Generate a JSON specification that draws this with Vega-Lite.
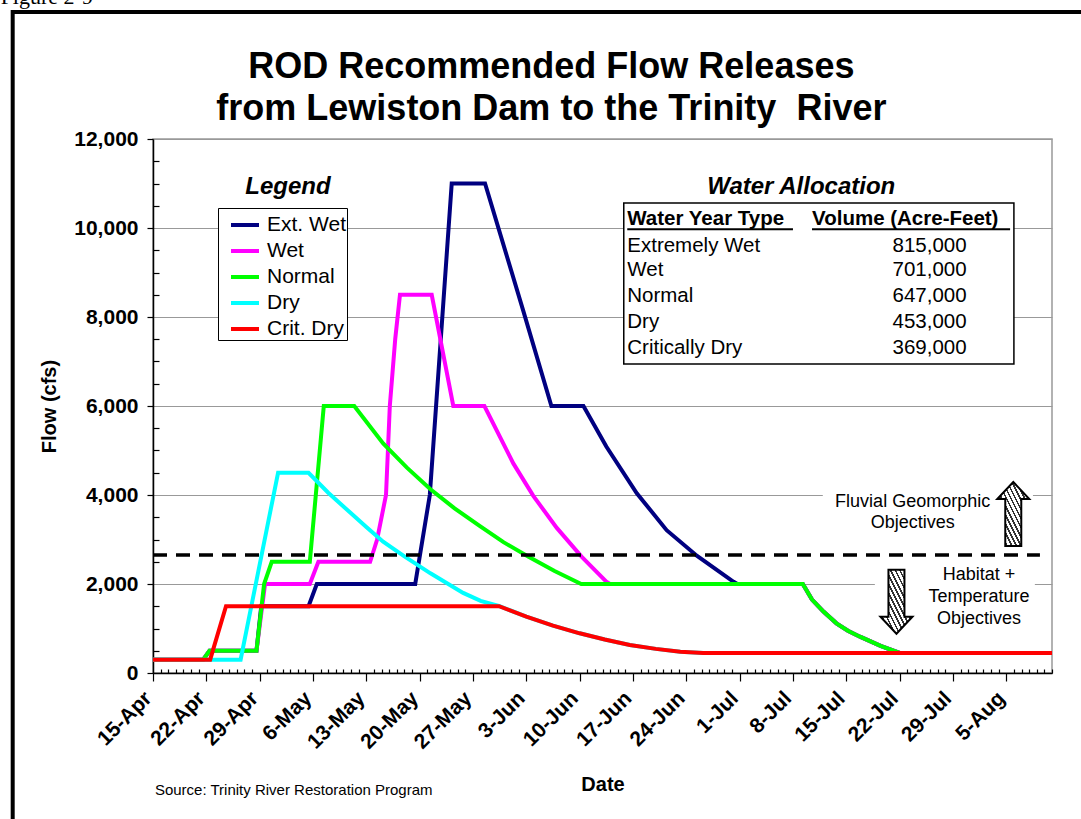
{
  "$schema": "https://vega.github.io/schema/vega-lite/v6.json",
  "width": 899,
  "height": 534,
  "autosize": {"type": "none"},
  "padding": {"left": 153, "top": 139, "right": 29, "bottom": 146},
  "background": "white",
  "config": {
    "font": "Liberation Sans",
    "view": {"stroke": "#999999", "strokeWidth": 1.5}
  },
  "encoding": {
    "x": {
      "field": "date",
      "type": "temporal",
      "scale": {"type": "utc", "nice": false, "domain": [{"year": 2001, "month": 4, "date": 15, "utc": true}, {"year": 2001, "month": 8, "date": 11, "utc": true}]},
      "axis": {
        "tickCount": {"interval": "day", "step": 1},
        "labelExpr": "round((datum.value - utc(2001,3,15))/86400000) % 7 == 0 ? utcFormat(datum.value, '%-d-%b') : ''",
        "labelAngle": -45,
        "labelAlign": "right",
        "labelBaseline": "middle",
        "labelFontSize": 21,
        "labelFontWeight": "bold",
        "labelColor": "black",
        "labelOverlap": false,
        "labelFlush": false,
        "labelBound": false,
        "labelPadding": 14,
        "labelOffset": -5,
        "tickSize": {"condition": {"test": "round((datum.value - utc(2001,3,15))/86400000) % 7 == 0", "value": 8}, "value": -4},
        "tickColor": "black",
        "tickWidth": 1.2,
        "domainColor": "black",
        "domainWidth": 1.5,
        "grid": false,
        "title": "Date",
        "titleFontSize": 20,
        "titleFontWeight": "bold",
        "titleColor": "black",
        "titlePadding": 22
      }
    },
    "y": {
      "field": "flow",
      "type": "quantitative",
      "scale": {"domain": [0, 12000], "nice": false, "zero": false},
      "axis": {
        "values": [0, 500, 1000, 1500, 2000, 2500, 3000, 3500, 4000, 4500, 5000, 5500, 6000, 6500, 7000, 7500, 8000, 8500, 9000, 9500, 10000, 10500, 11000, 11500, 12000],
        "labelExpr": "datum.value % 2000 == 0 ? format(datum.value, ',') : ''",
        "labelFontSize": 21,
        "labelFontWeight": "bold",
        "labelColor": "black",
        "labelOverlap": false,
        "labelPadding": 9,
        "tickSize": {"condition": {"test": "datum.value % 2000 == 0", "value": 6}, "value": -6},
        "tickColor": "black",
        "tickWidth": 1.2,
        "domainColor": "black",
        "domainWidth": 1.5,
        "grid": true,
        "gridColor": "#999999",
        "gridWidth": 1.2,
        "gridOpacity": {"condition": {"test": "datum.value % 2000 != 0", "value": 0}, "value": 1},
        "title": "Flow (cfs)",
        "titleFontSize": 20,
        "titleFontWeight": "bold",
        "titleColor": "black",
        "titlePadding": 14
      }
    }
  },
  "layer": [
    {
      "data": {"values": [
        {"date": "2001-07-11T22:00Z", "date2": "2001-08-08T12:00Z", "flow": 4337, "flow2": 2989},
        {"date": "2001-07-18T18:00Z", "date2": "2001-08-08T18:00Z", "flow": 2494, "flow2": 854}
      ]},
      "mark": {"type": "rect", "fill": "white", "strokeOpacity": 0},
      "encoding": {"x2": {"field": "date2"}, "y2": {"field": "flow2"}}
    },
    {
      "data": {"values": [
        {"date": "2001-06-15T19:00Z", "date2": "2001-08-06T00:00Z", "flow": 10562, "flow2": 6944}
      ]},
      "mark": {"type": "rect", "fill": "white", "stroke": "black", "strokeWidth": 1.5},
      "encoding": {"x2": {"field": "date2"}, "y2": {"field": "flow2"}}
    },
    {
      "data": {"values": [
        {"series": "Ext. Wet", "date": "2001-04-15T00:00Z", "flow": 300},
        {"series": "Ext. Wet", "date": "2001-04-21T14:00Z", "flow": 300},
        {"series": "Ext. Wet", "date": "2001-04-22T10:00Z", "flow": 500},
        {"series": "Ext. Wet", "date": "2001-04-28T14:00Z", "flow": 500},
        {"series": "Ext. Wet", "date": "2001-04-29T05:00Z", "flow": 1500},
        {"series": "Ext. Wet", "date": "2001-05-05T10:00Z", "flow": 1500},
        {"series": "Ext. Wet", "date": "2001-05-06T12:00Z", "flow": 2000},
        {"series": "Ext. Wet", "date": "2001-05-19T10:00Z", "flow": 2000},
        {"series": "Ext. Wet", "date": "2001-05-21T08:00Z", "flow": 4000},
        {"series": "Ext. Wet", "date": "2001-05-24T05:00Z", "flow": 11000},
        {"series": "Ext. Wet", "date": "2001-05-28T14:00Z", "flow": 11000},
        {"series": "Ext. Wet", "date": "2001-06-02T14:00Z", "flow": 8150},
        {"series": "Ext. Wet", "date": "2001-06-06T07:00Z", "flow": 6000},
        {"series": "Ext. Wet", "date": "2001-06-10T12:00Z", "flow": 6000},
        {"series": "Ext. Wet", "date": "2001-06-13T12:00Z", "flow": 5090},
        {"series": "Ext. Wet", "date": "2001-06-17T12:00Z", "flow": 4040},
        {"series": "Ext. Wet", "date": "2001-06-21T10:00Z", "flow": 3210},
        {"series": "Ext. Wet", "date": "2001-06-25T10:00Z", "flow": 2630},
        {"series": "Ext. Wet", "date": "2001-06-30T05:00Z", "flow": 2050},
        {"series": "Ext. Wet", "date": "2001-06-30T17:00Z", "flow": 2000},
        {"series": "Ext. Wet", "date": "2001-07-09T07:00Z", "flow": 2000},
        {"series": "Ext. Wet", "date": "2001-07-10T12:00Z", "flow": 1650},
        {"series": "Ext. Wet", "date": "2001-07-12T00:00Z", "flow": 1380},
        {"series": "Ext. Wet", "date": "2001-07-13T17:00Z", "flow": 1116},
        {"series": "Ext. Wet", "date": "2001-07-15T05:00Z", "flow": 950},
        {"series": "Ext. Wet", "date": "2001-07-16T19:00Z", "flow": 816},
        {"series": "Ext. Wet", "date": "2001-07-19T12:00Z", "flow": 610},
        {"series": "Ext. Wet", "date": "2001-07-22T00:00Z", "flow": 450},
        {"series": "Ext. Wet", "date": "2001-08-11T00:00Z", "flow": 450},

        {"series": "Wet", "date": "2001-04-15T00:00Z", "flow": 300},
        {"series": "Wet", "date": "2001-04-21T14:00Z", "flow": 300},
        {"series": "Wet", "date": "2001-04-22T10:00Z", "flow": 500},
        {"series": "Wet", "date": "2001-04-28T14:00Z", "flow": 500},
        {"series": "Wet", "date": "2001-04-29T17:00Z", "flow": 2000},
        {"series": "Wet", "date": "2001-05-05T14:00Z", "flow": 2000},
        {"series": "Wet", "date": "2001-05-06T17:00Z", "flow": 2500},
        {"series": "Wet", "date": "2001-05-13T12:00Z", "flow": 2500},
        {"series": "Wet", "date": "2001-05-14T10:00Z", "flow": 3000},
        {"series": "Wet", "date": "2001-05-15T14:00Z", "flow": 4000},
        {"series": "Wet", "date": "2001-05-16T02:00Z", "flow": 6000},
        {"series": "Wet", "date": "2001-05-16T19:00Z", "flow": 7500},
        {"series": "Wet", "date": "2001-05-17T10:00Z", "flow": 8500},
        {"series": "Wet", "date": "2001-05-21T14:00Z", "flow": 8500},
        {"series": "Wet", "date": "2001-05-24T10:00Z", "flow": 6000},
        {"series": "Wet", "date": "2001-05-28T12:00Z", "flow": 6000},
        {"series": "Wet", "date": "2001-05-31T10:00Z", "flow": 5010},
        {"series": "Wet", "date": "2001-06-01T07:00Z", "flow": 4710},
        {"series": "Wet", "date": "2001-06-03T22:00Z", "flow": 3980},
        {"series": "Wet", "date": "2001-06-07T00:00Z", "flow": 3260},
        {"series": "Wet", "date": "2001-06-10T06:00Z", "flow": 2614},
        {"series": "Wet", "date": "2001-06-13T12:00Z", "flow": 2050},
        {"series": "Wet", "date": "2001-06-14T00:00Z", "flow": 2000},
        {"series": "Wet", "date": "2001-07-09T07:00Z", "flow": 2000},
        {"series": "Wet", "date": "2001-07-10T12:00Z", "flow": 1650},
        {"series": "Wet", "date": "2001-07-12T00:00Z", "flow": 1380},
        {"series": "Wet", "date": "2001-07-13T17:00Z", "flow": 1116},
        {"series": "Wet", "date": "2001-07-15T05:00Z", "flow": 950},
        {"series": "Wet", "date": "2001-07-16T19:00Z", "flow": 816},
        {"series": "Wet", "date": "2001-07-19T12:00Z", "flow": 610},
        {"series": "Wet", "date": "2001-07-22T00:00Z", "flow": 450},
        {"series": "Wet", "date": "2001-08-11T00:00Z", "flow": 450},

        {"series": "Normal", "date": "2001-04-15T00:00Z", "flow": 300},
        {"series": "Normal", "date": "2001-04-21T14:00Z", "flow": 300},
        {"series": "Normal", "date": "2001-04-22T10:00Z", "flow": 500},
        {"series": "Normal", "date": "2001-04-28T14:00Z", "flow": 500},
        {"series": "Normal", "date": "2001-04-29T14:00Z", "flow": 2000},
        {"series": "Normal", "date": "2001-04-30T14:00Z", "flow": 2500},
        {"series": "Normal", "date": "2001-05-05T14:00Z", "flow": 2500},
        {"series": "Normal", "date": "2001-05-07T10:00Z", "flow": 6000},
        {"series": "Normal", "date": "2001-05-11T10:00Z", "flow": 6000},
        {"series": "Normal", "date": "2001-05-15T05:00Z", "flow": 5160},
        {"series": "Normal", "date": "2001-05-18T07:00Z", "flow": 4620},
        {"series": "Normal", "date": "2001-05-21T10:00Z", "flow": 4130},
        {"series": "Normal", "date": "2001-05-24T14:00Z", "flow": 3700},
        {"series": "Normal", "date": "2001-05-27T22:00Z", "flow": 3300},
        {"series": "Normal", "date": "2001-05-31T00:00Z", "flow": 2940},
        {"series": "Normal", "date": "2001-06-03T07:00Z", "flow": 2614},
        {"series": "Normal", "date": "2001-06-06T17:00Z", "flow": 2290},
        {"series": "Normal", "date": "2001-06-10T05:00Z", "flow": 2000},
        {"series": "Normal", "date": "2001-07-09T07:00Z", "flow": 2000},
        {"series": "Normal", "date": "2001-07-10T12:00Z", "flow": 1650},
        {"series": "Normal", "date": "2001-07-12T00:00Z", "flow": 1380},
        {"series": "Normal", "date": "2001-07-13T17:00Z", "flow": 1116},
        {"series": "Normal", "date": "2001-07-15T05:00Z", "flow": 950},
        {"series": "Normal", "date": "2001-07-16T19:00Z", "flow": 816},
        {"series": "Normal", "date": "2001-07-19T12:00Z", "flow": 610},
        {"series": "Normal", "date": "2001-07-22T00:00Z", "flow": 450},
        {"series": "Normal", "date": "2001-08-11T00:00Z", "flow": 450},

        {"series": "Dry", "date": "2001-04-15T00:00Z", "flow": 300},
        {"series": "Dry", "date": "2001-04-26T12:00Z", "flow": 300},
        {"series": "Dry", "date": "2001-05-01T10:00Z", "flow": 4500},
        {"series": "Dry", "date": "2001-05-05T10:00Z", "flow": 4500},
        {"series": "Dry", "date": "2001-05-08T00:00Z", "flow": 4050},
        {"series": "Dry", "date": "2001-05-10T22:00Z", "flow": 3600},
        {"series": "Dry", "date": "2001-05-13T00:00Z", "flow": 3280},
        {"series": "Dry", "date": "2001-05-15T05:00Z", "flow": 2950},
        {"series": "Dry", "date": "2001-05-18T00:00Z", "flow": 2620},
        {"series": "Dry", "date": "2001-05-21T10:00Z", "flow": 2240},
        {"series": "Dry", "date": "2001-05-25T17:00Z", "flow": 1800},
        {"series": "Dry", "date": "2001-05-28T00:00Z", "flow": 1620},
        {"series": "Dry", "date": "2001-05-30T12:00Z", "flow": 1500},
        {"series": "Dry", "date": "2001-06-03T00:00Z", "flow": 1266},
        {"series": "Dry", "date": "2001-06-06T12:00Z", "flow": 1065},
        {"series": "Dry", "date": "2001-06-10T00:00Z", "flow": 892},
        {"series": "Dry", "date": "2001-06-13T07:00Z", "flow": 752},
        {"series": "Dry", "date": "2001-06-16T14:00Z", "flow": 629},
        {"series": "Dry", "date": "2001-06-20T00:00Z", "flow": 542},
        {"series": "Dry", "date": "2001-06-23T05:00Z", "flow": 479},
        {"series": "Dry", "date": "2001-06-26T05:00Z", "flow": 450},
        {"series": "Dry", "date": "2001-08-11T00:00Z", "flow": 450},

        {"series": "Crit. Dry", "date": "2001-04-15T00:00Z", "flow": 300},
        {"series": "Crit. Dry", "date": "2001-04-22T12:00Z", "flow": 300},
        {"series": "Crit. Dry", "date": "2001-04-24T14:00Z", "flow": 1500},
        {"series": "Crit. Dry", "date": "2001-05-30T10:00Z", "flow": 1500},
        {"series": "Crit. Dry", "date": "2001-06-03T00:00Z", "flow": 1266},
        {"series": "Crit. Dry", "date": "2001-06-06T12:00Z", "flow": 1065},
        {"series": "Crit. Dry", "date": "2001-06-10T00:00Z", "flow": 892},
        {"series": "Crit. Dry", "date": "2001-06-13T07:00Z", "flow": 752},
        {"series": "Crit. Dry", "date": "2001-06-16T14:00Z", "flow": 629},
        {"series": "Crit. Dry", "date": "2001-06-20T00:00Z", "flow": 542},
        {"series": "Crit. Dry", "date": "2001-06-23T05:00Z", "flow": 479},
        {"series": "Crit. Dry", "date": "2001-06-26T05:00Z", "flow": 450},
        {"series": "Crit. Dry", "date": "2001-08-11T00:00Z", "flow": 450}
      ]},
      "mark": {"type": "line", "strokeWidth": 4},
      "encoding": {
        "color": {
          "field": "series",
          "type": "nominal",
          "scale": {"domain": ["Ext. Wet", "Wet", "Normal", "Dry", "Crit. Dry"], "range": ["#000080", "#FF00FF", "#00FF00", "#00FFFF", "#FF0000"]},
          "legend": {
            "orient": "none",
            "legendX": 65,
            "legendY": 69,
            "title": null,
            "strokeColor": "black",
            "fillColor": "white",
            "padding": 1,
            "symbolType": "stroke",
            "symbolSize": 784,
            "symbolStrokeWidth": 4,
            "symbolOffset": 10,
            "labelOffset": 6,
            "labelFontSize": 21,
            "labelColor": "black",
            "rowPadding": -1
          }
        }
      }
    },
    {
      "data": {"values": [
        {"date": "2001-04-15T00:00Z", "date2": "2001-08-09T10:00Z", "flow": 2650}
      ]},
      "mark": {"type": "rule", "color": "black", "strokeWidth": 3.5, "strokeDash": [14, 9]},
      "encoding": {"x2": {"field": "date2"}}
    },
    {
      "data": {"values": [
        {"date": "2001-06-16T06:00Z", "date2": "2001-07-08T00:00Z", "flow": 9971},
        {"date": "2001-07-10T12:00Z", "date2": "2001-08-05T12:00Z", "flow": 9971}
      ]},
      "mark": {"type": "rule", "color": "black", "strokeWidth": 2},
      "encoding": {"x2": {"field": "date2"}}
    },
    {
      "data": {"values": [
        {"date": "2001-06-06T07:00Z", "flow": 13371, "text": "ROD Recommended Flow Releases"},
        {"date": "2001-06-06T07:00Z", "flow": 12427, "text": "from Lewiston Dam to the Trinity \u00a0River"}
      ]},
      "mark": {"type": "text", "fontSize": 36, "fontWeight": "bold", "align": "center", "baseline": "alphabetic", "color": "black"},
      "encoding": {"text": {"field": "text"}}
    },
    {
      "data": {"values": [
        {"date": "2001-05-02T17:00Z", "flow": 10930, "text": "Legend"},
        {"date": "2001-07-09T02:00Z", "flow": 10930, "text": "Water Allocation"}
      ]},
      "mark": {"type": "text", "fontSize": 24, "fontWeight": "bold", "fontStyle": "italic", "align": "center", "baseline": "middle", "color": "black"},
      "encoding": {"text": {"field": "text"}}
    },
    {
      "data": {"values": [
        {"date": "2001-06-16T06:00Z", "flow": 10195, "text": "Water Year Type"},
        {"date": "2001-07-10T12:00Z", "flow": 10195, "text": "Volume (Acre-Feet)"}
      ]},
      "mark": {"type": "text", "fontSize": 20.5, "fontWeight": "bold", "align": "left", "baseline": "middle", "color": "black"},
      "encoding": {"text": {"field": "text"}}
    },
    {
      "data": {"name": "allocation", "values": [
        {"date": "2001-06-16T06:00Z", "date2": "2001-07-30T19:00Z", "flow": 9596, "type": "Extremely Wet", "volume": "815,000"},
        {"date": "2001-06-16T06:00Z", "date2": "2001-07-30T19:00Z", "flow": 9056, "type": "Wet", "volume": "701,000"},
        {"date": "2001-06-16T06:00Z", "date2": "2001-07-30T19:00Z", "flow": 8472, "type": "Normal", "volume": "647,000"},
        {"date": "2001-06-16T06:00Z", "date2": "2001-07-30T19:00Z", "flow": 7894, "type": "Dry", "volume": "453,000"},
        {"date": "2001-06-16T06:00Z", "date2": "2001-07-30T19:00Z", "flow": 7297, "type": "Critically Dry", "volume": "369,000"}
      ]},
      "layer": [
        {
          "mark": {"type": "text", "fontSize": 20.5, "align": "left", "baseline": "middle", "color": "black"},
          "encoding": {"text": {"field": "type"}}
        },
        {
          "mark": {"type": "text", "fontSize": 20.5, "align": "right", "baseline": "middle", "color": "black"},
          "encoding": {"x": {"field": "date2", "type": "temporal"}, "text": {"field": "volume"}}
        }
      ]
    },
    {
      "data": {"values": [
        {"date": "2001-07-23T17:00Z", "flow": 3850, "text": "Fluvial Geomorphic"},
        {"date": "2001-07-23T17:00Z", "flow": 3365, "text": "Objectives"},
        {"date": "2001-08-01T10:00Z", "flow": 2202, "text": "Habitat +"},
        {"date": "2001-08-01T10:00Z", "flow": 1701, "text": "Temperature"},
        {"date": "2001-08-01T10:00Z", "flow": 1207, "text": "Objectives"}
      ]},
      "mark": {"type": "text", "fontSize": 18, "align": "center", "baseline": "middle", "color": "black"},
      "encoding": {"text": {"field": "text"}}
    },
    {
      "data": {"values": [
        {"date": "2001-04-15T06:00Z", "flow": -2629, "text": "Source: Trinity River Restoration Program"}
      ]},
      "mark": {"type": "text", "fontSize": 15, "align": "left", "baseline": "middle", "color": "black"},
      "encoding": {"text": {"field": "text"}}
    },
    {
      "data": {"values": [
        {"date": "2001-03-26T00:00Z", "flow": 15034, "text": "Figure 2-9"}
      ]},
      "mark": {"type": "text", "font": "Liberation Serif", "fontSize": 22, "align": "left", "baseline": "alphabetic", "color": "black"},
      "encoding": {"text": {"field": "text"}}
    },
    {
      "data": {"values": [
        {"date": "2001-08-05T22:00Z", "flow": 3573, "dir": "up"},
        {"date": "2001-07-21T14:00Z", "flow": 1602, "dir": "down"}
      ]},
      "mark": {
        "type": "point",
        "filled": true,
        "opacity": 1,
        "size": 4096,
        "stroke": "black",
        "strokeWidth": 2,
        "strokeOpacity": 1,
        "fillOpacity": 1,
        "fill": {
          "gradient": "linear", "x1": 0, "y1": 1, "x2": 1, "y2": 0,
          "stops": [
            {"offset": 0, "color": "#333333"}, {"offset": 0.029, "color": "#333333"}, {"offset": 0.029, "color": "#ffffff"}, {"offset": 0.071, "color": "#ffffff"},
            {"offset": 0.071, "color": "#333333"}, {"offset": 0.1, "color": "#333333"}, {"offset": 0.1, "color": "#ffffff"}, {"offset": 0.143, "color": "#ffffff"},
            {"offset": 0.143, "color": "#333333"}, {"offset": 0.171, "color": "#333333"}, {"offset": 0.171, "color": "#ffffff"}, {"offset": 0.214, "color": "#ffffff"},
            {"offset": 0.214, "color": "#333333"}, {"offset": 0.243, "color": "#333333"}, {"offset": 0.243, "color": "#ffffff"}, {"offset": 0.286, "color": "#ffffff"},
            {"offset": 0.286, "color": "#333333"}, {"offset": 0.314, "color": "#333333"}, {"offset": 0.314, "color": "#ffffff"}, {"offset": 0.357, "color": "#ffffff"},
            {"offset": 0.357, "color": "#333333"}, {"offset": 0.386, "color": "#333333"}, {"offset": 0.386, "color": "#ffffff"}, {"offset": 0.429, "color": "#ffffff"},
            {"offset": 0.429, "color": "#333333"}, {"offset": 0.457, "color": "#333333"}, {"offset": 0.457, "color": "#ffffff"}, {"offset": 0.5, "color": "#ffffff"},
            {"offset": 0.5, "color": "#333333"}, {"offset": 0.529, "color": "#333333"}, {"offset": 0.529, "color": "#ffffff"}, {"offset": 0.571, "color": "#ffffff"},
            {"offset": 0.571, "color": "#333333"}, {"offset": 0.6, "color": "#333333"}, {"offset": 0.6, "color": "#ffffff"}, {"offset": 0.643, "color": "#ffffff"},
            {"offset": 0.643, "color": "#333333"}, {"offset": 0.671, "color": "#333333"}, {"offset": 0.671, "color": "#ffffff"}, {"offset": 0.714, "color": "#ffffff"},
            {"offset": 0.714, "color": "#333333"}, {"offset": 0.743, "color": "#333333"}, {"offset": 0.743, "color": "#ffffff"}, {"offset": 0.786, "color": "#ffffff"},
            {"offset": 0.786, "color": "#333333"}, {"offset": 0.814, "color": "#333333"}, {"offset": 0.814, "color": "#ffffff"}, {"offset": 0.857, "color": "#ffffff"},
            {"offset": 0.857, "color": "#333333"}, {"offset": 0.886, "color": "#333333"}, {"offset": 0.886, "color": "#ffffff"}, {"offset": 0.929, "color": "#ffffff"},
            {"offset": 0.929, "color": "#333333"}, {"offset": 0.957, "color": "#333333"}, {"offset": 0.957, "color": "#ffffff"}, {"offset": 1, "color": "#ffffff"}
          ]
        }
      },
      "encoding": {
        "shape": {
          "field": "dir",
          "type": "nominal",
          "scale": {"domain": ["up", "down"], "range": ["M0,-1L0.5,-0.47L0.25,-0.47L0.25,1L-0.25,1L-0.25,-0.47L-0.5,-0.47Z", "M0,1L0.5,0.47L0.25,0.47L0.25,-1L-0.25,-1L-0.25,0.47L-0.5,0.47Z"]},
          "legend": null
        }
      }
    },
    {
      "data": {"values": [
        {"date": "2001-03-27T14:00Z", "date2": "2001-10-01T00:00Z", "flow": 14854, "flow2": -8000}
      ]},
      "mark": {"type": "rect", "fillOpacity": 0, "stroke": "black", "strokeWidth": 4},
      "encoding": {"x2": {"field": "date2"}, "y2": {"field": "flow2"}}
    }
  ]
}
